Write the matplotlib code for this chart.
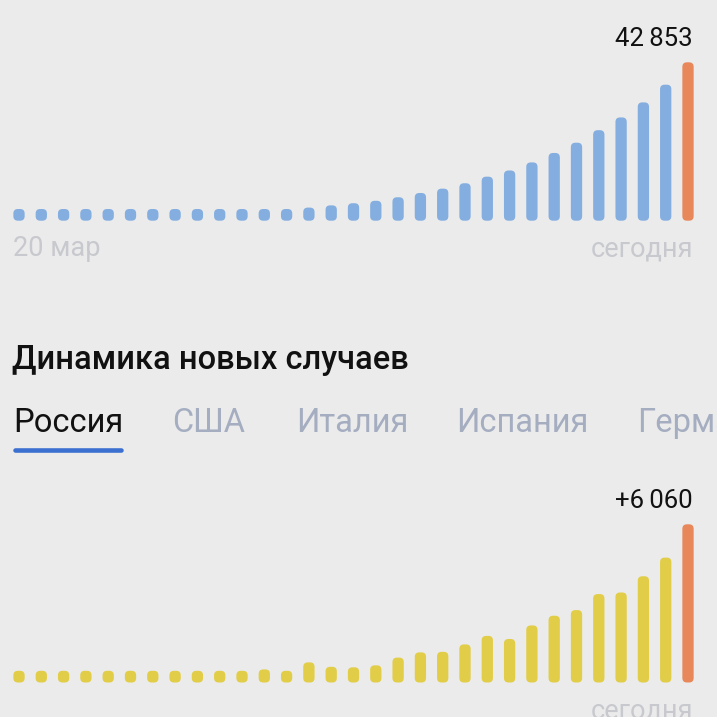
import matplotlib.pyplot as plt
from matplotlib.patches import FancyBboxPatch

# Russia, 20 March -> 19 April ("сегодня")
total_cases = [253, 306, 367, 438, 495, 658, 840, 1036, 1264, 1534, 1836,
               2337, 2777, 3548, 4149, 4731, 5389, 6343, 7497, 8672, 10131,
               11917, 13584, 15770, 18328, 21102, 24490, 27938, 32008, 36793,
               42853]
new_cases = [52, 53, 61, 71, 57, 163, 182, 196, 228, 270, 302,
             501, 440, 771, 601, 582, 658, 954, 1154, 1175, 1459,
             1786, 1667, 2186, 2558, 2774, 3388, 3448, 4070, 4785,
             6060]
start_label = "20 мар"
end_label = "сегодня"
title = "Динамика новых случаев"
tabs = ["Россия", "США", "Италия", "Испания", "Германия"]
tab_x = [13, 172, 296, 456, 637]

W = H = 717
BG = '#ebebeb'
FONT = ['Roboto', 'DejaVu Sans']


def fx(px):
    return px / W


def fy(py):
    return 1 - py / H


def add_bar_axes(fig, values, left, right, base, top):
    """Axes whose data space maps bar index/value onto the given pixel box."""
    n = len(values)
    step = (right - left) / (n - 1)
    x0 = left - step / 2
    x1 = right + step / 2
    ax = fig.add_axes([fx(x0), fy(base), fx(x1 - x0), (base - top) / H])
    ax.set_xlim(-0.5, n - 0.5)
    ax.set_ylim(0, max(values))
    ax.axis('off')
    ax.patch.set_visible(False)
    return ax, (x1 - x0), (base - top)


def draw_bars(ax, values, w_px, h_px, color, last_color,
              bar_px=11.3, radius_px=4.5, min_px=11.7):
    n = len(values)
    x_per_px = n / w_px
    y_per_px = max(values) / h_px
    aspect = y_per_px / x_per_px
    width = bar_px * x_per_px
    min_val = min_px * y_per_px
    for i, v in enumerate(values):
        c = last_color if i == n - 1 else color
        h = max(v, min_val)
        ax.add_patch(FancyBboxPatch(
            (i - width / 2, 0), width, h,
            boxstyle=f"round,pad=0,rounding_size={radius_px * x_per_px}",
            mutation_aspect=aspect, facecolor=c, edgecolor='none'))


def fmt(v):
    return f"{v:,}".replace(",", "\u2009")


fig = plt.figure(figsize=(W / 100, H / 100), dpi=100)
fig.patch.set_facecolor(BG)

# Top chart: total cases
ax1, w1, h1 = add_bar_axes(fig, total_cases, 19, 688, 220.7, 62.3)
draw_bars(ax1, total_cases, w1, h1, '#84aee0', '#e8885a')
fig.text(fx(693), fy(46.5), fmt(total_cases[-1]), ha='right', va='baseline',
         fontsize=18.5, color='#111111', family=FONT)
fig.text(fx(13), fy(256.5), start_label, ha='left', va='baseline',
         fontsize=19.5, color='#c8c9ce', family=FONT)
fig.text(fx(693), fy(256.5), end_label, ha='right', va='baseline',
         fontsize=19.5, color='#c8c9ce', family=FONT)

# Section header and country tabs
fig.text(fx(12), fy(369), title, ha='left', va='baseline',
         fontsize=23.5, fontweight='medium', color='#111111', family=FONT)
for i, (name, x) in enumerate(zip(tabs, tab_x)):
    fig.text(fx(x), fy(432), name, ha='left', va='baseline', fontsize=23.5,
             color='#111111' if i == 0 else '#a5adc1', family=FONT)
fig.add_artist(plt.Line2D([fx(15), fx(121)], [fy(449.5), fy(449.5)],
                          color='#3b6fd0', linewidth=3.3,
                          solid_capstyle='round'))

# Bottom chart: new cases
ax2, w2, h2 = add_bar_axes(fig, new_cases, 19, 688, 682.5, 524.3)
draw_bars(ax2, new_cases, w2, h2, '#e2cd48', '#e8885a')
fig.text(fx(693), fy(507.5), "+" + fmt(new_cases[-1]), ha='right',
         va='baseline', fontsize=18.5, color='#111111', family=FONT)
fig.text(fx(693), fy(719), end_label, ha='right', va='baseline',
         fontsize=19.5, color='#c8c9ce', family=FONT)

fig.savefig('out.png', dpi=100, facecolor=BG)
